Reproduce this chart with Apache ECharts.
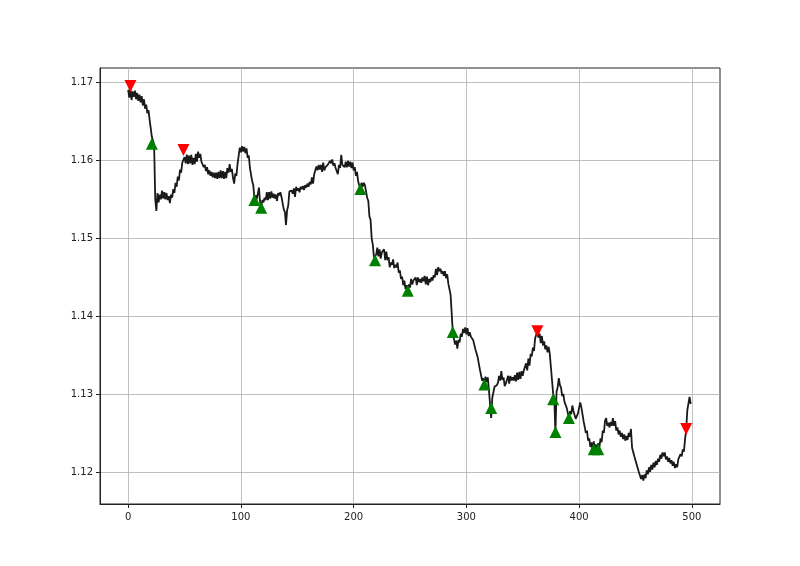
<!DOCTYPE html>
<html>
<head>
<meta charset="utf-8">
<script src="https://cdn.jsdelivr.net/npm/echarts@6/dist/echarts.min.js"></script>
<style>html,body{margin:0;padding:0;background:#fff}#c{width:800px;height:566px}</style>
</head>
<body>
<div id="c"></div>
<script>
// Price series (one value per bar, index 0..499)
const prices = [
1.1690,1.1680,1.1692,1.1677,1.1688,1.1681,1.1689,1.1678,1.1686,1.1676,
1.1684,1.1674,1.1682,1.1670,1.1678,1.1666,1.1671,1.1660,1.1664,1.1652,
1.1652,1.1630,1.1632,1.1620,1.1550,1.1535,1.1558,1.1546,1.1556,1.1550,
1.1561,1.1551,1.1559,1.1550,1.1558,1.1549,1.1554,1.1545,1.1556,1.1552,
1.1563,1.1558,1.1571,1.1566,1.1579,1.1574,1.1588,1.1584,1.1597,1.1598,
1.1604,1.1596,1.1607,1.1595,1.1606,1.1596,1.1607,1.1594,1.1603,1.1595,
1.1608,1.1598,1.1611,1.1603,1.1608,1.1598,1.1599,1.1591,1.1594,1.1586,
1.1591,1.1582,1.1587,1.1580,1.1585,1.1578,1.1584,1.1577,1.1584,1.1576,
1.1585,1.1577,1.1587,1.1577,1.1586,1.1576,1.1585,1.1577,1.1590,1.1584,
1.1595,1.1585,1.1589,1.1577,1.1570,1.1583,1.1580,1.1595,1.1597,1.1616,
1.1610,1.1618,1.1611,1.1617,1.1609,1.1615,1.1603,1.1606,1.1590,1.1591,
1.1573,1.1568,1.1550,1.1555,1.1550,1.1557,1.1565,1.1546,1.1540,1.1549,
1.1546,1.1552,1.1549,1.1559,1.1549,1.1559,1.1551,1.1560,1.1552,1.1557,
1.1551,1.1556,1.1548,1.1558,1.1555,1.1559,1.1553,1.1551,1.1537,1.1534,
1.1517,1.1536,1.1542,1.1560,1.1558,1.1561,1.1557,1.1564,1.1553,1.1566,
1.1561,1.1564,1.1559,1.1566,1.1563,1.1567,1.1562,1.1568,1.1565,1.1570,
1.1566,1.1572,1.1569,1.1578,1.1570,1.1582,1.1580,1.1592,1.1587,1.1594,
1.1588,1.1594,1.1585,1.1597,1.1587,1.1591,1.1589,1.1594,1.1592,1.1599,
1.1596,1.1601,1.1593,1.1596,1.1590,1.1592,1.1582,1.1594,1.1590,1.1607,
1.1594,1.1596,1.1591,1.1598,1.1591,1.1599,1.1592,1.1598,1.1590,1.1597,
1.1587,1.1591,1.1580,1.1585,1.1573,1.1573,1.1562,1.1571,1.1566,1.1571,
1.1568,1.1570,1.1552,1.1548,1.1528,1.1524,1.1500,1.1492,1.1476,1.1478,
1.1479,1.1488,1.1477,1.1486,1.1474,1.1482,1.1480,1.1486,1.1472,1.1483,
1.1472,1.1476,1.1463,1.1469,1.1466,1.1473,1.1462,1.1466,1.1463,1.1469,
1.1456,1.1459,1.1448,1.1451,1.1440,1.1446,1.1435,1.1440,1.1432,1.1441,
1.1437,1.1448,1.1441,1.1446,1.1444,1.1450,1.1440,1.1450,1.1444,1.1448,
1.1443,1.1450,1.1445,1.1452,1.1441,1.1451,1.1440,1.1448,1.1444,1.1450,
1.1446,1.1453,1.1450,1.1461,1.1453,1.1463,1.1458,1.1461,1.1455,1.1458,
1.1452,1.1458,1.1449,1.1454,1.1442,1.1444,1.1428,1.1404,1.1378,1.1380,
1.1364,1.1369,1.1359,1.1370,1.1367,1.1378,1.1374,1.1384,1.1379,1.1386,
1.1377,1.1385,1.1375,1.1380,1.1374,1.1376,1.1370,1.1371,1.1358,1.1360,
1.1348,1.1349,1.1332,1.1331,1.1318,1.1321,1.1311,1.1323,1.1316,1.1322,
1.1306,1.1304,1.1270,1.1296,1.1297,1.1310,1.1308,1.1312,1.1315,1.1324,
1.1318,1.1330,1.1319,1.1322,1.1311,1.1314,1.1312,1.1324,1.1314,1.1324,
1.1318,1.1322,1.1318,1.1325,1.1317,1.1328,1.1319,1.1329,1.1320,1.1330,
1.1324,1.1331,1.1329,1.1340,1.1331,1.1346,1.1337,1.1352,1.1349,1.1360,
1.1356,1.1372,1.1370,1.1381,1.1373,1.1378,1.1366,1.1375,1.1363,1.1368,
1.1358,1.1363,1.1354,1.1361,1.1352,1.1353,1.1318,1.1301,1.1296,1.1250,
1.1304,1.1309,1.1321,1.1312,1.1309,1.1298,1.1301,1.1291,1.1293,1.1283,
1.1283,1.1270,1.1279,1.1275,1.1286,1.1279,1.1279,1.1269,1.1268,1.1276,
1.1276,1.1290,1.1284,1.1284,1.1266,1.1266,1.1251,1.1254,1.1241,1.1244,
1.1233,1.1239,1.1229,1.1240,1.1231,1.1236,1.1228,1.1238,1.1232,1.1244,
1.1239,1.1254,1.1251,1.1266,1.1270,1.1260,1.1264,1.1258,1.1265,1.1260,
1.1270,1.1260,1.1266,1.1254,1.1258,1.1249,1.1254,1.1246,1.1251,1.1243,
1.1249,1.1241,1.1247,1.1242,1.1251,1.1246,1.1256,1.1232,1.1233,1.1221,
1.1223,1.1211,1.1213,1.1201,1.1203,1.1192,1.1197,1.1190,1.1198,1.1193,
1.1203,1.1198,1.1207,1.1201,1.1210,1.1204,1.1213,1.1207,1.1215,1.1210,
1.1218,1.1214,1.1223,1.1218,1.1226,1.1221,1.1226,1.1217,1.1221,1.1214,
1.1219,1.1212,1.1216,1.1209,1.1214,1.1206,1.1211,1.1207,1.1217,1.1215,
1.1224,1.1221,1.1230,1.1227,1.1243,1.1255,1.1280,1.1278,1.1297,1.1288
];

// Buy signals (green up triangles)
const buyIdx = [21, 112, 118, 206, 219, 248, 288, 316, 322, 377, 379, 391, 413, 417];
const buyVal = [1.1621, 1.1549, 1.1539, 1.1563, 1.1472, 1.1433, 1.1380, 1.1313, 1.1283, 1.1294, 1.1252, 1.1270, 1.1230, 1.1230];
// Sell signals (red down triangles)
const sellIdx = [2, 49, 363, 495];
const sellVal = [1.1695, 1.1613, 1.1381, 1.1256];

// Tick labels
const xTicks = [0, 100, 200, 300, 400, 500];
const yTicks = [1.12, 1.13, 1.14, 1.15, 1.16, 1.17];

const chart = echarts.init(document.getElementById('c'), null, {renderer: 'canvas'});
const font = 'DejaVu Sans';
const axisCommon = {
  axisLine: {show: true, onZero: false, lineStyle: {color: '#222', width: 1}},
  axisTick: {show: true, inside: false, length: 4, lineStyle: {color: '#222', width: 1}},
  splitLine: {show: true, lineStyle: {color: '#b0b0b0', width: 0.8}},
};
chart.setOption({
  animation: false,
  backgroundColor: '#fff',
  grid: {left: 100, right: 80, top: 68, bottom: 62, show: true, borderColor: '#222', borderWidth: 1, backgroundColor: 'transparent'},
  xAxis: Object.assign({
    type: 'value', min: -25, max: 525,
    axisLabel: {customValues: xTicks, color: '#222', fontFamily: font, fontSize: 10, margin: 8, formatter: v => String(v)},
  }, axisCommon, {axisTick: Object.assign({}, axisCommon.axisTick, {customValues: xTicks})}),
  yAxis: Object.assign({
    type: 'value', min: 1.1160, max: 1.1718,
    axisLabel: {customValues: yTicks, color: '#222', fontFamily: font, fontSize: 10, margin: 7, formatter: v => v.toFixed(2)},
  }, axisCommon, {axisTick: Object.assign({}, axisCommon.axisTick, {customValues: yTicks})}),
  series: [
    {
      type: 'line', data: prices.map((v, i) => [i, v]), showSymbol: false, symbol: 'none',
      lineStyle: {color: '#1a1a1a', width: 1.8}, z: 2
    },
    {
      type: 'scatter', data: buyIdx.map((x, k) => [x, buyVal[k]]),
      symbol: 'triangle', symbolSize: 12, itemStyle: {color: '#008000', opacity: 1}, z: 5
    },
    {
      type: 'scatter', data: sellIdx.map((x, k) => [x, sellVal[k]]),
      symbol: 'triangle', symbolRotate: 180, symbolSize: 12, itemStyle: {color: '#ff0000', opacity: 1}, z: 5
    }
  ]
});
</script>
</body>
</html>
